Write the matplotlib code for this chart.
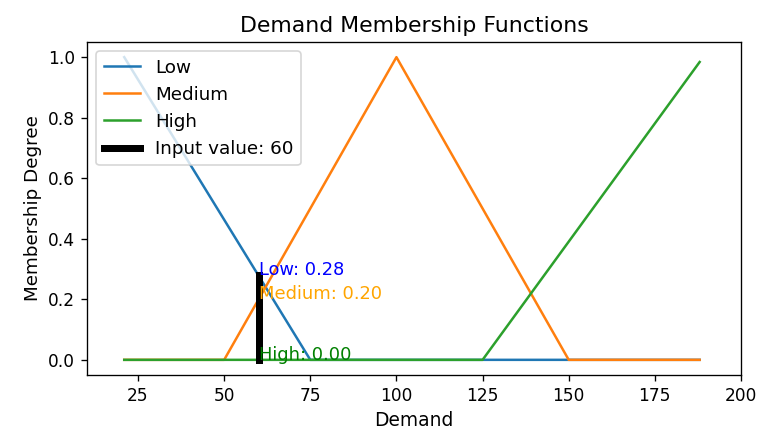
import matplotlib
matplotlib.use("Agg")
import matplotlib.pyplot as plt

# Membership function breakpoints (demand -> degree)
low_x = [21, 75, 188]
low_y = [1.0, 0.0, 0.0]
medium_x = [21, 50, 100, 150, 188]
medium_y = [0.0, 0.0, 1.0, 0.0, 0.0]
high_x = [21, 125, 188]
high_y = [0.0, 0.0, 0.984]

set_names = ["Low", "Medium", "High"]
input_value = 60
degrees = [0.28, 0.20, 0.00]
text_colors = ["blue", "orange", "green"]
x_ticks = [25, 50, 75, 100, 125, 150, 175, 200]

fig = plt.figure(figsize=(760 / 120, 435 / 120), dpi=120)
ax = fig.add_axes([0.1145, 0.138, 0.8605, 0.7654])

ax.plot(low_x, low_y, label="Low")
ax.plot(medium_x, medium_y, label="Medium")
ax.plot(high_x, high_y, label="High")
ax.plot([input_value, input_value], [0, max(degrees)], color="black",
        linewidth=4.2, label=f"Input value: {input_value}")

for name, deg, col in zip(set_names, degrees, text_colors):
    ax.text(input_value, deg, f"{name}: {deg:.2f}", color=col, fontsize=10.7)

ax.set_xlim(10.2, 200)
ax.set_xticks(x_ticks)
ax.tick_params(labelsize=10.2)
ax.set_title("Demand Membership Functions", fontsize=13.2)
ax.set_xlabel("Demand", fontsize=11.2)
ax.set_ylabel("Membership Degree", fontsize=11)
ax.legend(loc="upper left", fontsize=11, borderaxespad=0.5)

fig.savefig("out.png", dpi=120)
